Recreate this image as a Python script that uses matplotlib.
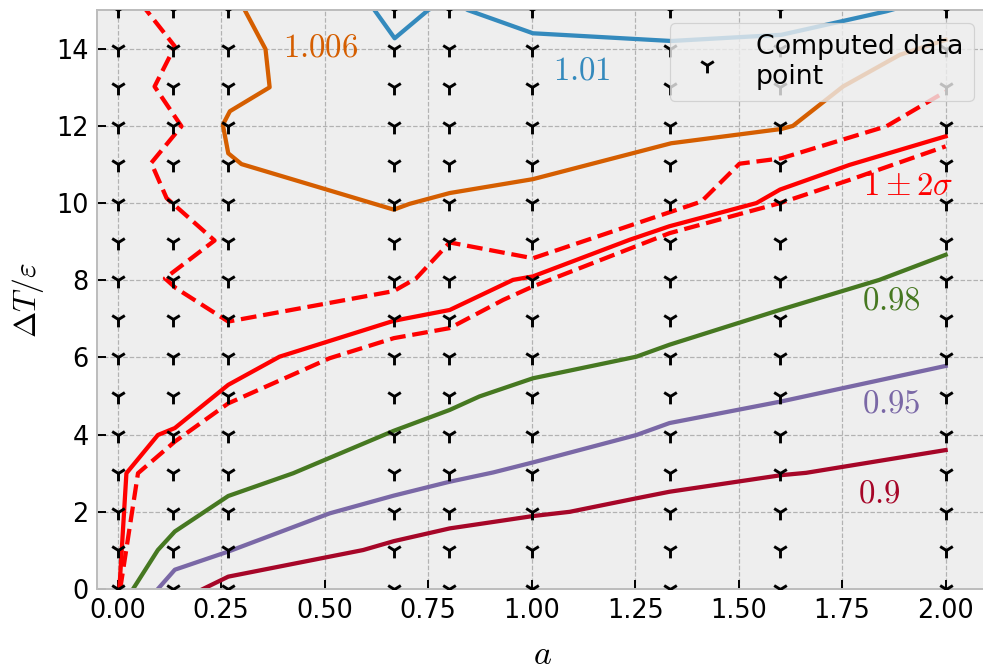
import numpy as np
import matplotlib
matplotlib.use("Agg")
import matplotlib.pyplot as plt

plt.style.use('bmh')

# computed grid of (a, dT/eps) points
grid_a = [0.0, 0.1333, 0.2667, 0.6667, 0.8, 1.0, 1.3333, 1.6, 2.0]
grid_t = [0, 1, 2, 3, 4, 5, 6, 7, 8, 9, 10, 11, 12, 13, 14, 15]

# contour lines
a_090 = [0.206, 0.267, 0.593, 0.667, 0.802, 1.003, 1.092, 1.253, 1.333, 1.603, 1.663, 2.0]
t_090 = [0.0, 0.32, 1.01, 1.24, 1.57, 1.89, 2.0, 2.35, 2.52, 2.95, 3.01, 3.60]

a_095 = [0.097, 0.138, 0.267, 0.512, 0.667, 0.802, 0.907, 1.003, 1.253, 1.333, 1.603, 2.0]
t_095 = [0.0, 0.50, 0.97, 1.96, 2.42, 2.78, 3.02, 3.28, 3.99, 4.30, 4.86, 5.78]

a_098 = [0.037, 0.097, 0.138, 0.267, 0.424, 0.667, 0.802, 0.874, 1.003, 1.253, 1.333, 1.599, 1.84, 2.0]
t_098 = [0.0, 1.01, 1.49, 2.41, 3.0, 4.10, 4.64, 4.99, 5.46, 6.02, 6.33, 7.23, 8.01, 8.66]

a_100 = [0.004, 0.021, 0.097, 0.138, 0.267, 0.391, 0.667, 0.802, 0.955, 1.003, 1.237, 1.333, 1.543, 1.6, 1.768, 2.0]
t_100 = [0.0, 3.0, 3.99, 4.17, 5.29, 6.02, 6.95, 7.23, 8.01, 8.1, 9.05, 9.40, 10.0, 10.35, 10.99, 11.73]

a_lo = [0.006, 0.049, 0.138, 0.267, 0.512, 0.667, 0.802, 0.931, 1.003, 1.333, 1.6, 1.768, 2.0]
t_lo = [0.0, 3.0, 3.82, 4.81, 5.98, 6.50, 6.76, 7.49, 7.84, 9.22, 10.0, 10.6, 11.47]

a_hi = [0.055, 0.069, 0.138, 0.089, 0.154, 0.081, 0.118, 0.234, 0.114, 0.14, 0.267,
        0.667, 0.721, 0.802, 1.003, 1.41, 1.502, 1.603, 1.857, 2.0]
t_hi = [15.2, 15.0, 14.06, 13.02, 11.99, 11.04, 10.13, 9.03, 8.05, 7.8, 6.93,
        7.72, 8.05, 8.98, 8.57, 10.04, 11.02, 11.16, 11.99, 12.89]

a_1006 = [0.297, 0.357, 0.367, 0.271, 0.254, 0.267, 0.299, 0.667, 0.705, 0.802, 1.003,
          1.337, 1.603, 1.631, 1.752, 1.889, 2.0]
t_1006 = [15.2, 13.99, 13.0, 12.38, 12.03, 11.29, 11.01, 9.83, 9.98, 10.26, 10.62,
          11.55, 11.92, 12.0, 13.02, 13.84, 14.23]

a_101 = [0.607, 0.669, 0.75, 0.8, 0.846, 1.003, 1.337, 1.603, 1.857, 1.9]
t_101 = [15.2, 14.27, 15.0, 15.3, 15.0, 14.4, 14.2, 14.36, 14.97, 15.1]

fig = plt.figure(figsize=(983 / 175, 670 / 175), dpi=175)
ax = fig.add_axes([0.0987, 0.1209, 0.9054, 0.864])

lw = 1.75
ax.plot(a_090, t_090, color='#A60628', lw=lw)
ax.plot(a_095, t_095, color='#7A68A6', lw=lw)
ax.plot(a_098, t_098, color='#467821', lw=lw)
ax.plot(a_100, t_100, color='red', lw=lw)
ax.plot(a_lo, t_lo, color='red', lw=lw, ls='--')
ax.plot(a_hi, t_hi, color='red', lw=lw, ls='--')
ax.plot(a_1006, t_1006, color='#D55E00', lw=lw)
ax.plot(a_101, t_101, color='#348ABD', lw=lw)

A, T = np.meshgrid(grid_a, grid_t)
ax.scatter(A.ravel(), T.ravel(), marker='1', color='k', s=42, linewidths=1.2,
           zorder=3, label='Computed data\npoint')

fs = 13.5
ax.text(0.49, 14.05, '$1.006$', color='#D55E00', fontsize=fs, ha='center', va='center')
ax.text(1.12, 13.46, '$1.01$', color='#348ABD', fontsize=fs, ha='center', va='center')
ax.text(1.91, 10.45, r'$1\pm2\sigma$', color='red', fontsize=fs, ha='center', va='center')
ax.text(1.87, 7.49, '$0.98$', color='#467821', fontsize=fs, ha='center', va='center')
ax.text(1.87, 4.82, '$0.95$', color='#7A68A6', fontsize=fs, ha='center', va='center')
ax.text(1.84, 2.49, '$0.9$', color='#A60628', fontsize=fs, ha='center', va='center')

ax.set_xlim(-0.05, 2.1)
ax.set_ylim(0, 15)
ax.set_xticks([0.0, 0.25, 0.5, 0.75, 1.0, 1.25, 1.5, 1.75, 2.0])
ax.set_yticks([0, 2, 4, 6, 8, 10, 12, 14])
ax.set_xlabel('$a$', fontsize=14, labelpad=6)
ax.set_ylabel(r'$\Delta T/\varepsilon$', fontsize=13)
ax.tick_params(labelsize=10.5)
ax.legend(loc='upper right', fontsize=11)

fig.savefig('out.png', dpi=175)
